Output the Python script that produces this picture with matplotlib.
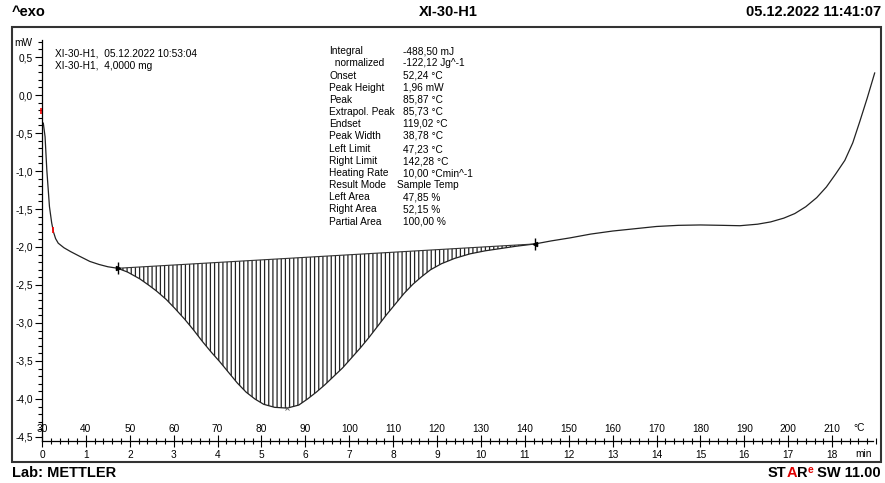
import numpy as np
import matplotlib.pyplot as plt
from matplotlib.patches import Rectangle
from matplotlib.ticker import MultipleLocator, FixedLocator, FuncFormatter

plt.rcParams['font.family'] = ['Liberation Sans', 'DejaVu Sans']
plt.rcParams['hatch.linewidth'] = 0.9

# ---- DSC curve (sample temperature in °C, heat flow in mW) ----
temp = [30.3, 30.7, 31.1, 31.7, 32.2, 32.6, 33.1, 33.7, 35.0, 36.5,
        38.5, 40.9, 43.0, 45.0, 47.23, 49.5, 52.3, 54.5, 56.1, 58.3,
        60.3, 62.5, 64.5, 66.5, 68.5, 70.5, 72.5, 74.5, 76.5, 78.5,
        80.5, 83.0, 85.87, 88.5, 90.5, 92.5, 94.5, 96.5, 98.5, 100.5,
        102.5, 104.5, 106.5, 108.5, 110.5, 112.5, 114.5, 116.5, 118.5, 121.0,
        124.0, 127.5, 131.0, 134.5, 138.0, 142.28, 146.0, 150.3, 155.0, 160.0,
        165.0, 170.0, 175.0, 180.0, 185.0, 189.0, 193.0, 196.0, 199.0, 201.5,
        204.0, 206.5, 208.7, 210.8, 212.9, 214.7, 216.3, 218.0, 219.7]
heat_flow = [-0.37, -0.55, -0.99, -1.47, -1.68, -1.80, -1.89, -1.95, -2.01, -2.06,
             -2.12, -2.19, -2.23, -2.26, -2.28, -2.33, -2.42, -2.51, -2.58, -2.69,
             -2.81, -2.95, -3.09, -3.24, -3.38, -3.51, -3.65, -3.79, -3.91, -4.00,
             -4.07, -4.11, -4.12, -4.08, -4.00, -3.91, -3.81, -3.70, -3.59, -3.46,
             -3.33, -3.19, -3.04, -2.89, -2.75, -2.61, -2.49, -2.39, -2.30, -2.22,
             -2.15, -2.09, -2.05, -2.02, -1.99, -1.96, -1.92, -1.88, -1.83, -1.79,
             -1.76, -1.73, -1.715, -1.71, -1.715, -1.72, -1.70, -1.67, -1.62, -1.56,
             -1.47, -1.35, -1.21, -1.04, -0.86, -0.63, -0.35, -0.04, 0.29]

# integration limits and peak
left_limit = 47.23
right_limit = 142.28
peak_temp = 85.87
peak_value = -4.12

# axis ticks
temp_ticks = list(range(30, 220, 10))
time_labels = [str(i) for i in range(19)]

# evaluation results
result_names = ["Integral", "  normalized", "Onset", "Peak Height", "Peak",
                "Extrapol. Peak", "Endset", "Peak Width", "Left Limit",
                "Right Limit", "Heating Rate", "Result Mode", "Left Area",
                "Right Area", "Partial Area"]
result_values = ["-488,50 mJ", "-122,12 Jg^-1", "52,24 °C", "1,96 mW", "85,87 °C",
                 "85,73 °C", "119,02 °C", "38,78 °C", "47,23 °C", "142,28 °C",
                 "10,00 °Cmin^-1", "Sample Temp", "47,85 %", "52,15 %", "100,00 %"]
sample_lines = ["XI-30-H1,  05.12.2022 10:53:04", "XI-30-H1,  4,0000 mg"]

W, H = 885, 483
fig = plt.figure(figsize=(W / 100, H / 100), dpi=100)


def px(x, y):
    return x / W, 1 - y / H


ax = fig.add_axes([42 / W, (H - 441) / H, (876 - 42) / W, (441 - 40) / H])
ax.set_xlim(30, 220)
ax.set_ylim(-4.553, 0.724)

T = np.array(temp)
V = np.array(heat_flow)
ax.plot(T, V, color='#222222', lw=0.9)

# linear baseline between the limits + hatched peak area
i0, i1 = temp.index(left_limit), temp.index(right_limit)
base_y = [heat_flow[i0], heat_flow[i1]]
ax.plot([left_limit, right_limit], base_y, color='#333333', lw=0.8)
seg_T = T[i0:i1 + 1]
seg_base = np.interp(seg_T, [left_limit, right_limit], base_y)
ax.fill_between(seg_T, seg_base, V[i0:i1 + 1], facecolor='none',
                edgecolor='#222222', hatch='||||', linewidth=0)

# limit and peak markers
for t, y in zip([left_limit, right_limit], base_y):
    ax.plot(t, y, marker='|', ms=9, mew=1.0, color='black')
ax.plot(left_limit, base_y[0], marker='>', ms=3, color='black')
ax.plot(right_limit, base_y[1], marker='<', ms=3, color='black')
ax.plot(peak_temp, peak_value, marker='x', ms=3, mew=0.6, color='#555555')

# red markers on the curve start
ax.plot(29.8, -0.21, marker='|', ms=5, mew=1.2, color='red', clip_on=False)
ax.plot(32.6, -1.78, marker='|', ms=5, mew=1.2, color='red')

# axes styling
for s in ['top', 'right']:
    ax.spines[s].set_visible(False)
ax.spines['bottom'].set_bounds(30, 219.3)
for s in ['left', 'bottom']:
    ax.spines[s].set_linewidth(0.9)

ax.yaxis.set_major_locator(MultipleLocator(0.5))
ax.yaxis.set_minor_locator(MultipleLocator(0.1))
ax.yaxis.set_major_formatter(FuncFormatter(lambda v, p: f"{v:.1f}".replace('.', ',').replace('-0,0', '0,0')))
ax.tick_params(axis='y', which='major', direction='out', length=5, width=0.8, pad=1.5, labelsize=7.3)
ax.tick_params(axis='y', which='minor', direction='out', length=3, width=0.8)

ax.xaxis.set_major_locator(FixedLocator(temp_ticks))
ax.xaxis.set_minor_locator(MultipleLocator(2))
ax.set_xticklabels(time_labels)
ax.tick_params(axis='x', which='major', direction='inout', length=9, width=0.8, pad=2.0, labelsize=7.3)
ax.tick_params(axis='x', which='minor', direction='inout', length=5, width=0.8)

# temperature labels above the time axis
sec = ax.secondary_xaxis(0.0)
sec.set_alignment('top')
sec.spines['top'].set_visible(False)
sec.spines['bottom'].set_visible(False)
sec.set_xticks(temp_ticks)
sec.set_xticklabels([str(t) for t in temp_ticks])
sec.tick_params(axis='x', length=0, pad=5, labelsize=7.3)

fig.text(*px(859, 428), "°C", fontsize=7.3, ha='center', va='center')
fig.text(*px(864, 454), "min", fontsize=7.3, ha='center', va='center')
fig.text(*px(23, 43), "mW", fontsize=7.3, ha='center', va='center')

# sample info and results block (baseline aligned rows, whole pixels)
for k, line in enumerate(sample_lines):
    fig.text(*px(55, round(56.6 + 12.5 * k)), line, fontsize=7.3, va='baseline')
for k, (name, val) in enumerate(zip(result_names, result_values)):
    y = round(54.3 + 12.16 * k)
    fig.text(*px(329, y), name, fontsize=7.3, va='baseline')
    x_val = 397 if val == "Sample Temp" else 403
    fig.text(*px(x_val, y), val, fontsize=7.3, va='baseline')

# frame and header / footer
fig.patches.append(Rectangle(px(12, 462), (881 - 12) / W, (462 - 27) / H,
                             transform=fig.transFigure, fill=False,
                             edgecolor='#333333', lw=1.5))
hdr = dict(fontsize=10.5, fontweight='bold', va='center')
fig.text(*px(12, 12), "^exo", ha='left', **hdr)
fig.text(*px(448, 12), "XI-30-H1", ha='center', **hdr)
fig.text(*px(881, 12), "05.12.2022 11:41:07", ha='right', **hdr)
fig.text(*px(12, 473), "Lab: METTLER", ha='left', **hdr)

# STARe logo text, placed right to left
renderer = fig.canvas.get_renderer()
parts = [("ST", 'black', 10.5, 0), ("A", '#e00000', 10.5, 0), ("R", 'black', 10.5, 0),
         ("e", '#e00000', 7.5, 4), (" SW 11.00", 'black', 10.5, 0)]
x_cur = 881 / W
for s, col, fs, dy in reversed(parts):
    t = fig.text(x_cur, 1 - (477 - dy) / H, s, color=col, fontsize=fs,
                 fontweight='bold', ha='right', va='baseline')
    x_cur -= t.get_window_extent(renderer).width / fig.bbox.width

fig.savefig('out.png', dpi=100)
